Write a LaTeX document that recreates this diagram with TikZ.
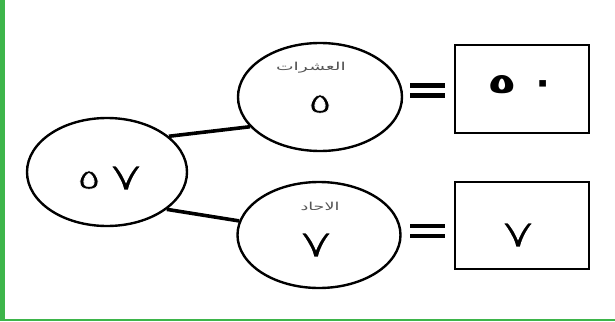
\documentclass[tikz,border=0pt]{standalone}
\usepackage{fontspec}
\TeXXeTstate=1
\newfontfamily\arabicfont[Script=Arabic]{DejaVu Sans}
\usetikzlibrary{shapes.geometric}
\definecolor{framegreen}{HTML}{3DB54A}
\definecolor{labelgray}{HTML}{555555}
\tikzset{
  oval/.style={draw=black, line width=2.4pt, ellipse, inner sep=0pt},
  valbox/.style={draw=black, line width=2.4pt, rectangle, inner sep=0pt},
  link/.style={draw=black, line width=3.6pt},
  eqbar/.style={draw=black, line width=4.5pt},
  digit/.style={font=\arabicfont\fontsize{39}{42}\selectfont, inner sep=0pt},
  smalldigit/.style={font=\arabicfont\fontsize{28}{32}\selectfont, inner sep=0pt},
  smalllabel/.style={font=\arabicfont\fontsize{11}{12}\selectfont, text=labelgray, inner sep=0pt}
}
\newcommand{\wideglyph}[2]{\scalebox{#1}[1]{#2}}
\newcommand{\thinglyph}[2]{\special{pdf:literal direct 1 1 1 RG #1 w 2 Tr}#2\special{pdf:literal direct 0 Tr}}
\begin{document}
\begin{tikzpicture}[x=1pt,y=-1pt]
\useasboundingbox (0,0) rectangle (615,321);
\fill[white] (0,0) rectangle (615,321);
% green frame
\fill[framegreen] (0,0) rectangle (4.5,321);
\fill[framegreen] (0,318.5) rectangle (615,321);
% ellipses
\node[oval, minimum width=160pt, minimum height=108pt] (whole) at (107,172) {};
\node[oval, minimum width=164pt, minimum height=108pt] (tens) at (320,97) {};
\node[oval, minimum width=163pt, minimum height=106pt] (ones) at (319,235) {};
% boxes
\node[valbox, minimum width=134pt, minimum height=88pt] (tensbox) at (522,89) {};
\node[valbox, minimum width=134pt, minimum height=87pt] (onesbox) at (522,225.5) {};
% connectors
\draw[link] (whole.30) -- (tens.203);
\draw[link] (whole.-32) -- (ones.170);
% equals signs
\coordinate (eqa1) at (410,85.5); \coordinate (eqa2) at (445,85.5);
\coordinate (eqb1) at (410,95.5); \coordinate (eqb2) at (445,95.5);
\draw[eqbar] (eqa1) -- (eqa2);
\draw[eqbar] (eqb1) -- (eqb2);
\coordinate (eqc1) at (410,226); \coordinate (eqc2) at (445,226);
\coordinate (eqd1) at (410,236); \coordinate (eqd2) at (445,236);
\draw[eqbar] (eqc1) -- (eqc2);
\draw[eqbar] (eqd1) -- (eqd2);
% texts
\node[smalldigit] (whole5) at (89,180) {\wideglyph{1.6}{\thinglyph{0.5}{٥}}};
\node[digit] (whole7) at (126,178) {\wideglyph{1.7}{\thinglyph{1.3}{٧}}};
\node[smalllabel] (tenslbl) at (311,68) {\scalebox{1.7}[1]{\beginR العشرات\endR}};
\node[smalldigit] (tensdig) at (320,104) {\wideglyph{1.6}{\thinglyph{0.5}{٥}}};
\node[smalllabel] (oneslbl) at (320,206) {\scalebox{1.6}[1]{\beginR الاحاد\endR}};
\node[digit] (onesdig) at (316,245) {\wideglyph{1.7}{\thinglyph{1.3}{٧}}};
\node[smalldigit, font=\arabicfont\bfseries\fontsize{28}{32}\selectfont] (tensval5) at (502,85) {\wideglyph{1.7}{٥}};
\node[digit, font=\arabicfont\bfseries\fontsize{38}{42}\selectfont] (tensval0) at (543,88) {٠};
\node[digit] (onesval) at (518,235) {\wideglyph{1.7}{\thinglyph{1.3}{٧}}};
\end{tikzpicture}
\end{document}
